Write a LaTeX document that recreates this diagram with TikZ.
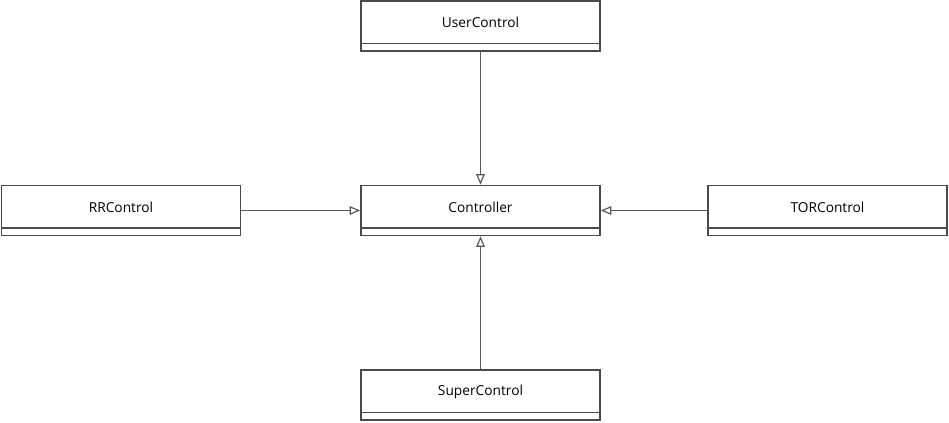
\documentclass[tikz,border=0pt]{standalone}
\usepackage{fontspec}
\setmainfont{Open Sans}
\usetikzlibrary{arrows.meta}
\definecolor{boxline}{HTML}{4A4A4A}
\definecolor{conn}{HTML}{5A5A5A}
\tikzset{
  cls/.style={draw=boxline, line width=1.1pt, fill=white, minimum width=239*0.75pt, minimum height=50*0.75pt, inner sep=0pt},
  inh/.style={draw=conn, line width=0.9pt, -{Triangle[open, length=8pt, width=6.5pt, fill=white]}}
}
\begin{document}
\begin{tikzpicture}[x=0.75pt, y=-0.75pt]
\useasboundingbox (0,0) rectangle (949,422);
\newcommand{\umlclass}[3]{%
  \node[cls] (#1) at (#2) {};
  \draw[boxline, line width=1.1pt] ([yshift=6.2pt]#1.south west) -- ([yshift=6.2pt]#1.south east);
  \node[font=\fontsize{10.3}{12}\selectfont] at ([yshift=2.6pt]#1.center) {#3};
}
\umlclass{user}{480.5,26}{UserControl}
\umlclass{ctrl}{480.5,210.5}{Controller}
\umlclass{rr}{121,210.5}{RRControl}
\umlclass{tor}{827.5,210.5}{TORControl}
\umlclass{super}{480.5,395}{SuperControl}
\draw[inh] (user.south) -- (ctrl.north);
\draw[inh] (super.north) -- (ctrl.south);
\draw[inh] (rr.east) -- (ctrl.west);
\draw[inh] (tor.west) -- (ctrl.east);
\end{tikzpicture}
\end{document}
